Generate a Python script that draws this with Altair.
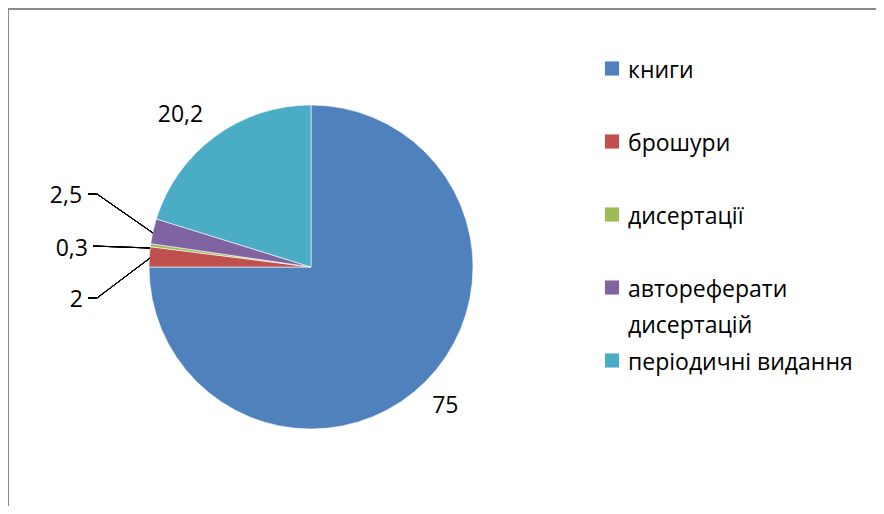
import altair as alt
import pandas as pd

categories = ["книги", "брошури", "дисертації", "автореферати дисертацій", "періодичні видання"]
values = [75, 2, 0.3, 2.5, 20.2]
legend_labels = ["книги", "брошури", "дисертації", "автореферати\nдисертацій", "періодичні видання"]
colors = ["#4F81BD", "#C0504D", "#9BBB59", "#8064A2", "#4BACC6"]

df = pd.DataFrame({
    "cat": categories,
    "value": values,
    "idx": list(range(len(categories))),
    "legend": legend_labels,
    "label": [f"{v:g}".replace(".", ",") for v in values],
})

W, H = 868, 498
CX, CY = 303, 259
FONT = "Open Sans"
FS = 23

color = alt.Color("cat:N", scale=alt.Scale(domain=categories, range=colors), legend=None)
theta_scale = alt.Scale(domain=[0, 100])
base = alt.Chart(df)

pie = base.mark_arc(outerRadius=162, stroke="white", strokeWidth=0.6).encode(
    theta=alt.Theta("value:Q", stack=True, scale=theta_scale),
    order=alt.Order("idx:Q", sort="ascending"),
    color=color,
    x=alt.value(CX),
    y=alt.value(CY),
)

stacked = base.transform_window(
    cum="sum(value)", sort=[alt.SortField("idx")], frame=[None, 0]
).transform_calculate(mid="datum.cum - datum.value / 2")

# (idx, radius, dx, dy)
label_specs = [(0, 197, -5, 0), (1, 200, -35, 46), (2, 200, -41, 9), (3, 200, -50, -27), (4, 200, -12, 9)]
label_layers = []
for i, r, dx, dy in label_specs:
    label_layers.append(
        stacked.transform_filter(alt.datum.idx == i).mark_text(
            radius=r, dx=dx, dy=dy, font=FONT, fontSize=FS, color="black",
            align="center", baseline="middle",
        ).encode(
            theta=alt.Theta("mid:Q", scale=theta_scale),
            text="label:N",
            x=alt.value(CX),
            y=alt.value(CY),
        )
    )

leader_style = dict(color="black", strokeWidth=1)
leaders = [
    # 2,5
    base.mark_rule(**leader_style).encode(x=alt.value(80), x2=alt.value(89), y=alt.value(186), y2=alt.value(186)),
    base.mark_rule(**leader_style).encode(x=alt.value(89), x2=alt.value(145), y=alt.value(186), y2=alt.value(225)),
    # 0,3
    base.mark_rule(**leader_style).encode(x=alt.value(85), x2=alt.value(142), y=alt.value(238), y2=alt.value(240)),
    # 2
    base.mark_rule(**leader_style).encode(x=alt.value(80), x2=alt.value(89), y=alt.value(290), y2=alt.value(290)),
    base.mark_rule(**leader_style).encode(x=alt.value(89), x2=alt.value(142), y=alt.value(290), y2=alt.value(250)),
]

frame_style = dict(color="#8a8a8a", strokeWidth=1.5)
frame = [
    base.mark_rule(**frame_style).encode(x=alt.value(0), x2=alt.value(W), y=alt.value(1), y2=alt.value(1)),
    base.mark_rule(**frame_style).encode(x=alt.value(0), x2=alt.value(0), y=alt.value(1), y2=alt.value(H)),
]

row_y = alt.Y("idx:Q", scale=alt.Scale(domain=[0, 4], range=[62, 354]), axis=None)
legend_sq = base.mark_square(size=200, opacity=1, yOffset=-1.5).encode(
    x=alt.value(604), y=row_y, color=color
)
legend_txt = base.mark_text(
    align="left", baseline="top", dy=-10, font=FONT, fontSize=FS, color="black",
    lineBreak="\n", lineHeight=36,
).encode(x=alt.value(620), y=row_y, text="legend:N")

chart = alt.layer(
    *frame, pie, *label_layers, *leaders, legend_sq, legend_txt
).properties(
    width=W, height=H, padding=0, autosize=alt.AutoSizeParams(type="none")
).configure_view(stroke=None)

chart.save("out.html", embed_options={"renderer": "svg", "actions": False})
